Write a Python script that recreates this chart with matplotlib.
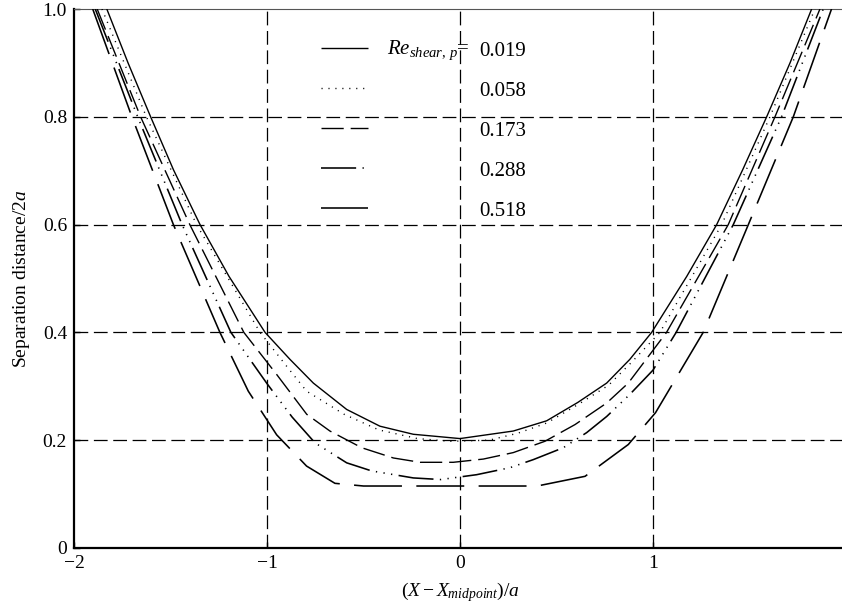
import matplotlib
matplotlib.use('Agg')
import matplotlib.pyplot as plt

plt.rcParams['font.family'] = ['Liberation Serif', 'DejaVu Serif']
plt.rcParams['mathtext.fontset'] = 'custom'
plt.rcParams['mathtext.rm'] = 'Liberation Serif'
plt.rcParams['mathtext.it'] = 'Liberation Serif:italic'

# Re_shear,p = 0.019 (solid)
x_019 = [-1.83, -1.72, -1.603, -1.485, -1.347, -1.197, -1.01, -0.881, -0.76, -0.587, -0.415, -0.242, 0.0,
         0.276, 0.449, 0.61, 0.76, 0.88, 0.993, 1.175, 1.33, 1.465, 1.589, 1.71, 1.822]
y_019 = [1.0, 0.9, 0.8, 0.702, 0.6, 0.504, 0.4, 0.35, 0.306, 0.257, 0.226, 0.211, 0.203,
         0.217, 0.236, 0.27, 0.306, 0.35, 0.4, 0.504, 0.6, 0.702, 0.8, 0.9, 1.0]
# 0.058 (dotted)
x_058 = [-1.855, -1.625, -1.365, -1.036, -0.9, -0.795, -0.6, -0.42, -0.22, -0.05,
         0.15, 0.3, 0.45, 0.62, 0.77, 0.89, 1.036, 1.356, 1.606, 1.839]
y_058 = [1.0, 0.8, 0.6, 0.4, 0.338, 0.291, 0.248, 0.219, 0.203, 0.198,
         0.2, 0.213, 0.232, 0.268, 0.302, 0.345, 0.4, 0.6, 0.8, 1.0]
# 0.173 (dashed)
x_173 = [-1.88, -1.655, -1.40, -1.12, -0.95, -0.794, -0.674, -0.509, -0.345, -0.207, -0.035,
         0.121, 0.276, 0.44, 0.596, 0.76, 0.872, 1.07, 1.39, 1.632, 1.865]
y_173 = [1.0, 0.8, 0.6, 0.4, 0.322, 0.248, 0.217, 0.186, 0.167, 0.159, 0.159,
         0.165, 0.177, 0.198, 0.229, 0.269, 0.306, 0.4, 0.6, 0.8, 1.0]
# 0.288 (dash-dot-dot)
x_288 = [-1.89, -1.67, -1.44, -1.187, -1.0, -0.87, -0.751, -0.587, -0.458, -0.242, -0.1,
         0.086, 0.259, 0.38, 0.535, 0.656, 0.76, 0.88, 1.0, 1.12, 1.416, 1.666, 1.882]
y_288 = [1.0, 0.8, 0.6, 0.4, 0.305, 0.243, 0.195, 0.158, 0.143, 0.13, 0.127,
         0.136, 0.149, 0.164, 0.186, 0.214, 0.244, 0.285, 0.33, 0.4, 0.6, 0.8, 1.0]
# 0.518 (long dashes)
x_518 = [-1.903, -1.70, -1.485, -1.244, -1.097, -0.95, -0.795, -0.648, -0.5, 0.4,
         0.648, 0.872, 1.013, 1.26, 1.494, 1.727, 1.925]
y_518 = [1.0, 0.8, 0.6, 0.4, 0.291, 0.21, 0.152, 0.12, 0.115, 0.115,
         0.133, 0.192, 0.251, 0.4, 0.6, 0.8, 1.0]

series = [
    (x_019, y_019, '0.019', (0, ()), 1.0),
    (x_058, y_058, '0.058', (0, (0.8, 4.2)), 1.0),
    (x_173, y_173, '0.173', (0, (16, 5)), 1.0),
    (x_288, y_288, '0.288', (0, (22, 4, 0.8, 4, 0.8, 4, 0.8, 4)), 1.15),
    (x_518, y_518, '0.518', (0, (30, 9)), 1.15),
]

xticks = [-2, -1, 0, 1, 2]
xticklabels = ['\u22122', '\u22121', '0', '1', '2']
yticks = [0, 0.2, 0.4, 0.6, 0.8, 1.0]
yticklabels = ['0', '0.2', '0.4', '0.6', '0.8', '1.0']
grid_x = [-1, 0, 1]
grid_y = [0.2, 0.4, 0.6, 0.8]

fig = plt.figure(figsize=(8.42, 6.09), dpi=100)
ax = fig.add_axes([74 / 842, 61 / 609, 772 / 842, 539 / 609])

for g in grid_x:
    ax.axvline(g, color='black', lw=0.9, linestyle=(0, (11, 4.5)), zorder=1)
for g in grid_y:
    ax.axhline(g, color='black', lw=0.9, linestyle=(0, (11, 4.5)), zorder=1)

for xs, ys, lab, ls, lw in series:
    ax.plot(xs, ys, color='black', lw=lw, linestyle=ls, zorder=3)

# legend drawn by hand
lx0, lx1 = 0.32, 0.381
ly0, dy = 0.928, 0.0742
for i, (xs, ys, lab, ls, lw) in enumerate(series):
    yy = ly0 - i * dy
    ax.plot([lx0, lx1], [yy, yy], color='black', lw=lw, linestyle=ls,
            transform=ax.transAxes, clip_on=False)
    ax.text(0.5246, yy - 0.006, lab, transform=ax.transAxes, fontsize=15,
            ha='left', va='center')
ax.text(0.513, ly0 - 0.004, r'$Re_{shear,\,p}$=', transform=ax.transAxes,
        fontsize=15, ha='right', va='center')

ax.set_xlim(-2, 2)
ax.set_ylim(0, 1.0)
ax.set_xticks(xticks)
ax.set_xticklabels(xticklabels)
ax.set_yticks(yticks)
ax.set_yticklabels(yticklabels)
ax.tick_params(direction='in', length=4, width=1, labelsize=14, pad=5)

for s in ['left', 'bottom']:
    ax.spines[s].set_linewidth(1.6)
ax.spines['top'].set_linewidth(0.8)
ax.spines['top'].set_color('#555555')
ax.spines['right'].set_visible(False)

ax.set_xlabel(r'$(X - X_{midpoint})/a$', fontsize=14, labelpad=6)
ax.set_ylabel(r'Separation distance/2$a$', fontsize=14, labelpad=8)

fig.savefig('out.png', dpi=100)
